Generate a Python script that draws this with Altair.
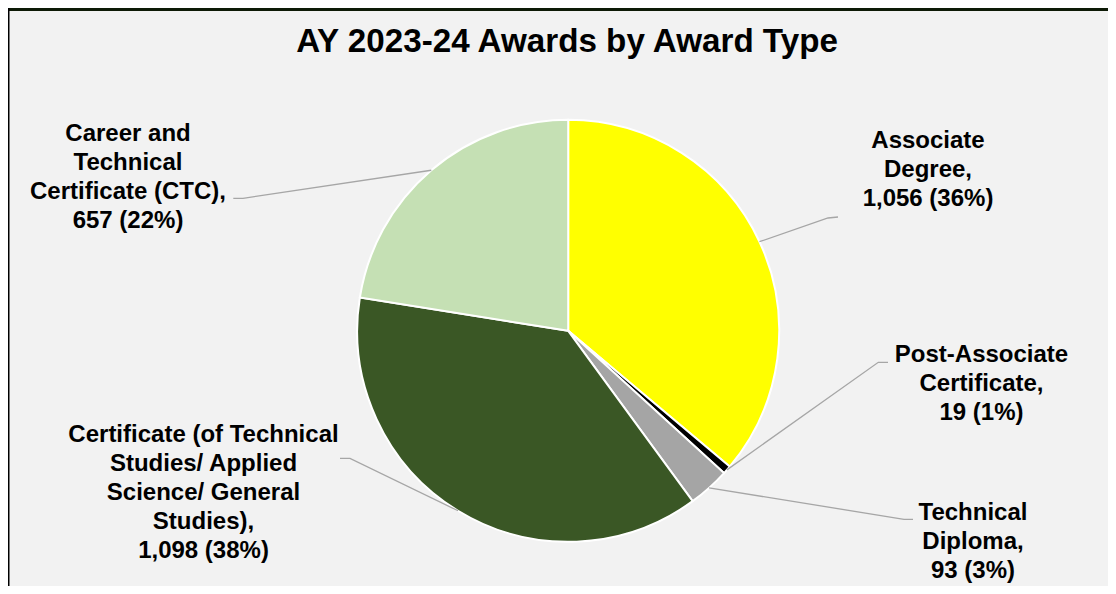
import math
import altair as alt
import pandas as pd

W, H = 1100, 578

# ---- data ----
categories = [
    "Associate Degree",
    "Post-Associate Certificate",
    "Technical Diploma",
    "Certificate (of Technical Studies/ Applied Science/ General Studies)",
    "Career and Technical Certificate (CTC)",
]
values = [1056, 19, 93, 1098, 657]
label_lines = [
    ["Associate", "Degree,"],
    ["Post-Associate", "Certificate,"],
    ["Technical", "Diploma,"],
    ["Certificate (of Technical", "Studies/ Applied", "Science/ General", "Studies),"],
    ["Career and", "Technical", "Certificate (CTC),"],
]
title_text = "AY 2023-24 Awards by Award Type"

# ---- styles ----
colors = ["#FFFF00", "#000000", "#A5A5A5", "#3A5725", "#C5E0B4"]
FONT = "Liberation Sans"

# ---- layout (chart pixel coordinates) ----
CX, CY, R = 560.2, 322.8, 211
label_x = [920, 973.5, 965, 195.5, 120]
label_y = [140, 353.7, 512, 433.7, 132.7]
leader_tail = [
    [(820, 210), (830, 209)],
    [(870.3, 354.3), (880, 354.3)],
    [(896, 511.3), (905, 511.3)],
    [(342, 450.3), (332, 450.3)],
    [(235, 190.3), (225.3, 190.3)],
]

total = sum(values)

pie_df = pd.DataFrame({
    "category": categories,
    "value": values,
    "order": list(range(len(values))),
})

label_text = []
for lines, v in zip(label_lines, values):
    pct = round(100 * v / total)
    label_text.append("\n".join(lines + [f"{v:,} ({pct}%)"]))
label_df = pd.DataFrame({"text": label_text, "x": label_x, "y": label_y})

rows = []
cum = 0
for i, (cat, v) in enumerate(zip(categories, values)):
    mid = (cum + v / 2) / total * 2 * math.pi
    cum += v
    ex = CX + R * math.sin(mid)
    ey = CY - R * math.cos(mid)
    rows.append({"category": cat, "seq": 0, "x": ex, "y": ey})
    for j, (px, py) in enumerate(leader_tail[i]):
        rows.append({"category": cat, "seq": j + 1, "x": px, "y": py})
leader_df = pd.DataFrame(rows)

xs = alt.Scale(domain=[0, W], nice=False, zero=False)
ys = alt.Scale(domain=[0, H], reverse=True, nice=False, zero=False)

border_df = pd.DataFrame({"k": [0]})
top_band = alt.Chart(border_df).mark_rect(color="#0D1A06").encode(
    x=alt.value(0), x2=alt.value(W), y=alt.value(0), y2=alt.value(3)
)
left_line = alt.Chart(border_df).mark_rect(color="#000000").encode(
    x=alt.value(0), x2=alt.value(1.5), y=alt.value(0), y2=alt.value(H)
)

pie = alt.Chart(pie_df).mark_arc(radius=R, stroke="white", strokeWidth=2).encode(
    theta=alt.Theta("value:Q", stack=True),
    order=alt.Order("order:Q", sort="ascending"),
    color=alt.Color("category:N", scale=alt.Scale(domain=categories, range=colors), legend=None),
    x=alt.value(CX),
    y=alt.value(CY),
)

leaders = alt.Chart(leader_df).mark_line(color="#A6A6A6", strokeWidth=1.3).encode(
    x=alt.X("x:Q", scale=xs, axis=None),
    y=alt.Y("y:Q", scale=ys, axis=None),
    detail="category:N",
    order="seq:Q",
)

labels = alt.Chart(label_df).mark_text(
    align="center", baseline="alphabetic", lineBreak="\n", font=FONT,
    fontSize=24, fontWeight="bold", lineHeight=29, color="#000000",
).encode(
    x=alt.X("x:Q", scale=xs, axis=None),
    y=alt.Y("y:Q", scale=ys, axis=None),
    text="text:N",
)

title = alt.Chart(pd.DataFrame({"t": [title_text]})).mark_text(
    align="center", baseline="alphabetic", font=FONT, fontSize=33.2,
    fontWeight="bold", color="#000000",
).encode(x=alt.value(559), y=alt.value(44), text="t:N")

chart = alt.layer(top_band, left_line, pie, leaders, labels, title).properties(
    width=W, height=H, background="#F2F2F2", padding=0, autosize="none"
).configure_view(stroke=None)

chart.save("out.html", embed_options={"renderer": "svg", "actions": False})
